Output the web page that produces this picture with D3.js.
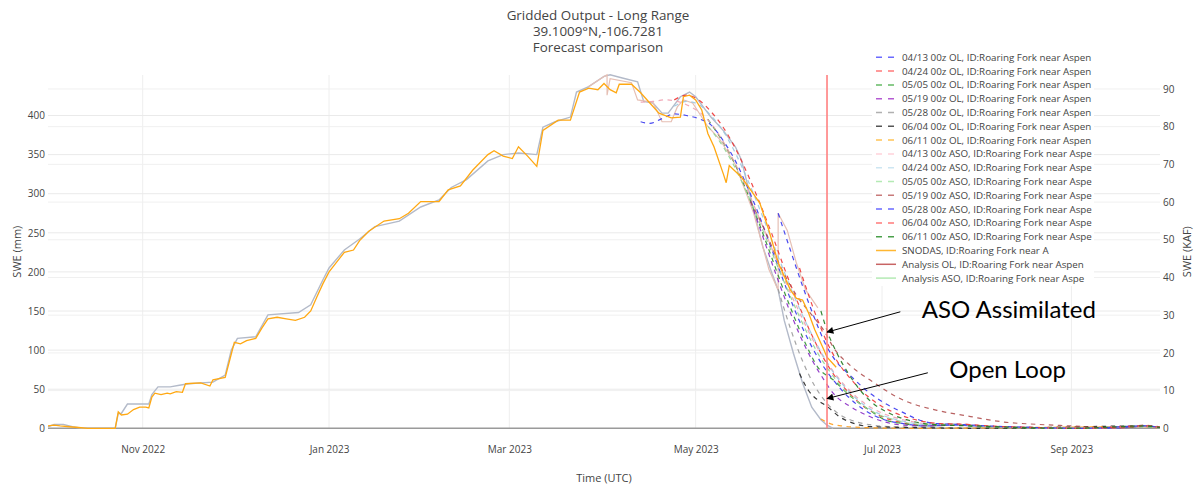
<!DOCTYPE html>
<html lang="en">
<head>
<meta charset="UTF-8" />
<title>Gridded Output - Long Range</title>
<style>
  body { margin: 0; background: #fff; font-family: "Open Sans", verdana, arial, sans-serif; }
  svg text { fill: #444; }
</style>
</head>
<body>
<svg id="chart" width="1195" height="487"></svg>
<script src="https://d3js.org/d3.v7.min.js"></script>
<script>
const titleLines = ["Gridded Output - Long Range", "39.1009°N,-106.7281", "Forecast comparison"];
const xLabel = "Time (UTC)";
const yLabelLeft = "SWE (mm)";
const yLabelRight = "SWE (KAF)";
const leftTicks = [0, 50, 100, 150, 200, 250, 300, 350, 400];
const rightTicks = [0, 10, 20, 30, 40, 50, 60, 70, 80, 90];
const markerDate = "2023-06-13";

// SNODAS (mm)
const snodas = [
  ["2022-10-01",3],["2022-10-03",4],["2022-10-05",3],["2022-10-08",2],["2022-10-11",1],["2022-10-14",0],
  ["2022-10-23",0],["2022-10-24",21],["2022-10-25",17],["2022-10-27",18],["2022-10-29",24],["2022-10-31",27],
  ["2022-11-02",27],["2022-11-03",26],["2022-11-04",40],["2022-11-05",45],["2022-11-07",43],["2022-11-09",45],
  ["2022-11-10",44],["2022-11-12",47],["2022-11-14",46],["2022-11-15",57],["2022-11-20",58],["2022-11-23",54],
  ["2022-11-24",62],["2022-11-28",65],["2022-11-30",95],["2022-12-01",110],["2022-12-03",108],["2022-12-05",112],
  ["2022-12-08",115],["2022-12-10",128],["2022-12-12",140],["2022-12-15",142],["2022-12-18",140],["2022-12-21",138],
  ["2022-12-24",142],["2022-12-26",150],["2022-12-28",168],["2022-12-30",185],["2023-01-01",200],["2023-01-04",215],
  ["2023-01-06",225],["2023-01-09",228],["2023-01-11",240],["2023-01-14",252],["2023-01-19",265],["2023-01-24",268],
  ["2023-01-27",275],["2023-01-31",290],["2023-02-06",290],["2023-02-09",305],["2023-02-13",310],["2023-02-17",330],
  ["2023-02-22",350],["2023-02-24",355],["2023-02-27",348],["2023-03-02",345],["2023-03-04",360],["2023-03-07",348],
  ["2023-03-10",335],["2023-03-12",381],["2023-03-17",394],["2023-03-21",394],["2023-03-24",430],["2023-03-27",435],
  ["2023-03-30",433],["2023-04-01",441],["2023-04-03",433],["2023-04-05",429],["2023-04-06",440],["2023-04-10",440],
  ["2023-04-13",429],["2023-04-16",416],["2023-04-19",403],["2023-04-23",397],["2023-04-26",398],["2023-04-27",424],
  ["2023-04-29",426],["2023-05-01",420],["2023-05-03",407],["2023-05-05",377],["2023-05-07",360],["2023-05-10",326],
  ["2023-05-11",314],["2023-05-12",336],["2023-05-16",321],["2023-05-19",305],["2023-05-22",288],["2023-05-25",253],
  ["2023-05-28",212],["2023-06-01",177],["2023-06-03",166],["2023-06-05",164],["2023-06-07",147],["2023-06-09",126],
  ["2023-06-12",100],["2023-06-13",91],["2023-06-16",78]
];

// Analysis OL (mm)
const analysisOL = [
  ["2022-10-01",2],["2022-10-03",5],["2022-10-06",5],["2022-10-09",2],["2022-10-12",0],["2022-10-23",0],
  ["2022-10-24",19],["2022-10-25",19],["2022-10-27",31],["2022-11-03",31],["2022-11-04",43],["2022-11-06",53],
  ["2022-11-10",53],["2022-11-13",55],["2022-11-16",57],["2022-11-24",59],["2022-11-28",68],["2022-11-30",100],
  ["2022-12-02",115],["2022-12-08",117],["2022-12-12",145],["2022-12-22",148],["2022-12-26",158],["2022-12-30",190],
  ["2023-01-01",205],["2023-01-06",228],["2023-01-11",242],["2023-01-16",258],["2023-01-24",265],["2023-01-31",283],
  ["2023-02-06",292],["2023-02-10",308],["2023-02-15",318],["2023-02-22",342],["2023-02-27",350],["2023-03-04",352],
  ["2023-03-10",350],["2023-03-12",385],["2023-03-16",392],["2023-03-21",398],["2023-03-23",430],["2023-03-27",437],
  ["2023-04-01",450],["2023-04-03",452],["2023-04-07",448],["2023-04-12",443],["2023-04-14",418],["2023-04-17",416],
  ["2023-04-20",403],["2023-04-22",403],["2023-04-26",424],["2023-04-29",430],["2023-05-01",424],["2023-05-06",398],
  ["2023-05-10",381],["2023-05-14",360],["2023-05-16",343],["2023-05-20",279],["2023-05-23",232],["2023-05-26",198],
  ["2023-05-28",177],["2023-05-30",138],["2023-06-02",96],["2023-06-05",58],["2023-06-08",27],["2023-06-11",11],
  ["2023-06-13",4],["2023-06-15",0]
];

// Analysis ASO (mm), same as OL until the ASO updates
const analysisASO = [
  ["2023-03-27",437],["2023-04-01",450],["2023-04-02",452],["2023-04-02",426],["2023-04-03",447],["2023-04-10",442],
  ["2023-04-12",420],["2023-04-17",417],["2023-04-20",392],["2023-04-23",392],["2023-04-25",411],["2023-04-27",420],
  ["2023-04-30",416],["2023-05-05",386],["2023-05-09",369],["2023-05-14",337],["2023-05-18",296],["2023-05-20",275],
  ["2023-05-23",232],["2023-05-25",203],["2023-05-28",177],["2023-05-28",275],["2023-05-31",253],["2023-06-03",211],
  ["2023-06-06",177],["2023-06-10",154]
];

// forecasts (mm)
const fc0413OL = [["2023-04-13",392],["2023-04-16",390],["2023-04-20",396],["2023-04-24",402],["2023-04-28",400],["2023-05-02",396],["2023-05-06",388],["2023-05-10",368],["2023-05-14",342],["2023-05-18",308],["2023-05-22",270],["2023-05-26",228],["2023-05-30",186],["2023-06-03",146],["2023-06-07",112],["2023-06-11",84],["2023-06-15",62],["2023-06-20",40],["2023-06-25",24],["2023-07-01",12],["2023-07-08",6],["2023-07-15",3],["2023-07-25",4],["2023-08-05",2],["2023-08-20",1],["2023-09-05",0],["2023-09-20",1],["2023-09-25",3],["2023-09-30",1]];
const fc0424OL = [["2023-04-24",420],["2023-04-28",426],["2023-05-02",420],["2023-05-06",405],["2023-05-10",385],["2023-05-14",358],["2023-05-18",325],["2023-05-22",288],["2023-05-26",248],["2023-05-30",205],["2023-06-03",165],["2023-06-07",128],["2023-06-11",96],["2023-06-15",70],["2023-06-20",46],["2023-06-25",28],["2023-07-01",15],["2023-07-08",7],["2023-07-15",4],["2023-07-25",5],["2023-08-05",2],["2023-08-20",1],["2023-09-05",0],["2023-09-20",1],["2023-09-25",3],["2023-09-30",1]];
const fc0505OL = [["2023-05-05",395],["2023-05-09",372],["2023-05-13",345],["2023-05-17",310],["2023-05-21",270],["2023-05-25",228],["2023-05-29",185],["2023-06-02",145],["2023-06-06",108],["2023-06-10",78],["2023-06-15",62],["2023-06-21",40],["2023-06-27",23],["2023-07-02",11],["2023-07-08",6],["2023-07-15",3],["2023-07-25",4],["2023-08-05",1],["2023-09-01",0],["2023-09-25",2],["2023-09-30",1]];
const fc0519OL = [["2023-05-19",290],["2023-05-23",245],["2023-05-27",200],["2023-05-31",158],["2023-06-04",120],["2023-06-08",88],["2023-06-12",62],["2023-06-15",45],["2023-06-21",27],["2023-06-27",15],["2023-07-02",8],["2023-07-08",4],["2023-07-15",3],["2023-07-25",5],["2023-08-05",2],["2023-08-20",1],["2023-09-05",0],["2023-09-25",3],["2023-09-30",1]];
const fc0528OL = [["2023-05-28",178],["2023-06-01",128],["2023-06-05",86],["2023-06-09",54],["2023-06-13",32],["2023-06-17",18],["2023-06-22",9],["2023-06-28",4],["2023-07-05",2],["2023-07-20",1],["2023-08-05",0],["2023-09-25",2],["2023-09-30",0]];
const fc0604OL = [["2023-06-04",70],["2023-06-07",48],["2023-06-10",36],["2023-06-13",28],["2023-06-17",15],["2023-06-22",6],["2023-06-28",2],["2023-07-10",1],["2023-08-01",0],["2023-09-25",3],["2023-09-30",1]];
const fc0611OL = [["2023-06-11",12],["2023-06-14",6],["2023-06-18",3],["2023-06-25",1],["2023-07-10",0],["2023-09-25",2],["2023-09-30",0]];
const fc0413ASO = [["2023-04-13",417],["2023-04-17",418],["2023-04-21",420],["2023-04-25",418],["2023-04-29",412],["2023-05-03",402],["2023-05-07",385],["2023-05-11",360],["2023-05-15",330],["2023-05-19",295],["2023-05-23",258],["2023-05-27",220],["2023-05-31",182],["2023-06-04",148],["2023-06-08",116],["2023-06-12",90],["2023-06-16",68],["2023-06-21",46],["2023-06-26",30],["2023-07-02",18],["2023-07-09",10],["2023-07-16",6],["2023-07-25",6],["2023-08-05",3],["2023-08-20",1],["2023-09-05",0],["2023-09-25",3],["2023-09-30",1]];
const fc0424ASO = [["2023-04-24",412],["2023-04-28",418],["2023-05-02",414],["2023-05-06",400],["2023-05-10",380],["2023-05-14",352],["2023-05-18",318],["2023-05-22",280],["2023-05-26",240],["2023-05-30",200],["2023-06-03",162],["2023-06-07",128],["2023-06-11",98],["2023-06-15",72],["2023-06-20",48],["2023-06-25",30],["2023-07-01",17],["2023-07-08",9],["2023-07-15",5],["2023-07-25",5],["2023-08-05",2],["2023-08-20",1],["2023-09-05",0],["2023-09-25",3],["2023-09-30",1]];
const fc0505ASO = [["2023-05-05",386],["2023-05-09",366],["2023-05-13",340],["2023-05-17",308],["2023-05-21",272],["2023-05-25",234],["2023-05-29",196],["2023-06-02",160],["2023-06-06",126],["2023-06-10",96],["2023-06-14",72],["2023-06-18",52],["2023-06-23",34],["2023-06-28",21],["2023-07-05",11],["2023-07-15",5],["2023-07-25",5],["2023-08-05",2],["2023-08-20",1],["2023-09-05",0],["2023-09-25",3],["2023-09-30",1]];
const fc0519ASO = [["2023-05-19",290],["2023-05-24",250],["2023-05-29",205],["2023-06-03",170],["2023-06-08",145],["2023-06-12",125],["2023-06-15",104],["2023-06-21",79],["2023-06-27",62],["2023-07-08",36],["2023-07-19",23],["2023-07-30",15],["2023-08-10",8],["2023-08-21",5],["2023-09-01",3],["2023-09-12",1],["2023-09-20",2],["2023-09-25",4],["2023-09-30",2]];
const fc0528ASO = [["2023-05-28",275],["2023-06-01",228],["2023-06-05",182],["2023-06-09",140],["2023-06-13",104],["2023-06-15",91],["2023-06-21",66],["2023-06-27",45],["2023-07-02",32],["2023-07-08",20],["2023-07-13",11],["2023-07-19",6],["2023-07-26",5],["2023-08-05",3],["2023-08-20",1],["2023-09-05",0],["2023-09-25",3],["2023-09-30",1]];
const fc0604ASO = [["2023-06-04",205],["2023-06-07",170],["2023-06-10",138],["2023-06-13",110],["2023-06-16",88],["2023-06-21",62],["2023-06-26",42],["2023-07-01",28],["2023-07-07",17],["2023-07-13",10],["2023-07-20",6],["2023-07-28",5],["2023-08-05",3],["2023-08-20",1],["2023-09-05",0],["2023-09-25",3],["2023-09-30",1]];
const fc0611ASO = [["2023-06-11",150],["2023-06-13",125],["2023-06-16",98],["2023-06-20",70],["2023-06-24",48],["2023-06-28",32],["2023-07-03",20],["2023-07-09",11],["2023-07-15",6],["2023-07-22",4],["2023-08-01",3],["2023-08-15",1],["2023-09-01",0],["2023-09-25",3],["2023-09-30",1]];

const legendNames = [
  "04/13 00z OL, ID:Roaring Fork near Aspen", "04/24 00z OL, ID:Roaring Fork near Aspen",
  "05/05 00z OL, ID:Roaring Fork near Aspen", "05/19 00z OL, ID:Roaring Fork near Aspen",
  "05/28 00z OL, ID:Roaring Fork near Aspen", "06/04 00z OL, ID:Roaring Fork near Aspen",
  "06/11 00z OL, ID:Roaring Fork near Aspen", "04/13 00z ASO, ID:Roaring Fork near Aspe",
  "04/24 00z ASO, ID:Roaring Fork near Aspe", "05/05 00z ASO, ID:Roaring Fork near Aspe",
  "05/19 00z ASO, ID:Roaring Fork near Aspe", "05/28 00z ASO, ID:Roaring Fork near Aspe",
  "06/04 00z ASO, ID:Roaring Fork near Aspe", "06/11 00z ASO, ID:Roaring Fork near Aspe",
  "SNODAS, ID:Roaring Fork near A", "Analysis OL, ID:Roaring Fork near Aspen",
  "Analysis ASO, ID:Roaring Fork near Aspe"
];
const legendColors = ["#6a6aff","#ff7a7a","#66bb66","#b45ad2","#b0b0b0","#555555","#ffc456",
  "#ffd2da","#cde6f2","#b4eab4","#c87a7a","#6a6aff","#ff7a7a","#4aa04a","#ffb732","#c86464","#b4eab4"];
const legendDashed = [true,true,true,true,true,true,true,true,true,true,true,true,true,true,false,false,false];

const forecasts = [fc0413OL, fc0424OL, fc0505OL, fc0519OL, fc0528OL, fc0604OL, fc0611OL,
  fc0413ASO, fc0424ASO, fc0505ASO, fc0519ASO, fc0528ASO, fc0604ASO, fc0611ASO];
const plotColors = ["#3535ee","#ee3535","#2e8f2e","#8a2bc4","#9a9a9a","#222222","#ff9d1a",
  "#f0a0b0","#9cc8e0","#8fd68f","#b05050","#3535ee","#ee3535","#227a22"];

const annotations = [
  { text: "ASO Assimilated", tip: ["2023-06-13", 123], tail: ["2023-07-07", 149], label: ["2023-07-14", 149] },
  { text: "Open Loop", tip: ["2023-06-13", 38], tail: ["2023-07-16", 71], label: ["2023-07-23", 72] }
];

const W = 1195, H = 487;
const margin = { left: 48, right: 35, top: 75, bottom: 58.7 };
const parse = d3.utcParse("%Y-%m-%d");
const svg = d3.select("#chart");

const x = d3.scaleUtc()
  .domain([parse("2022-10-01"), parse("2023-09-30")])
  .range([margin.left, W - margin.right]);
const y = d3.scaleLinear().domain([0, 451.8]).range([H - margin.bottom, margin.top]);
const y2 = d3.scaleLinear().domain([0, 93.7]).range([H - margin.bottom, margin.top]);

// grid
const grid = svg.append("g");
grid.selectAll("line.gx").data(d3.utcMonth.every(2).range(parse("2022-10-01"), parse("2023-09-30")))
  .join("line").attr("x1", d => x(d)).attr("x2", d => x(d))
  .attr("y1", margin.top).attr("y2", H - margin.bottom)
  .attr("stroke", "#eeeeee").attr("stroke-width", 1);
grid.selectAll("line.gy").data(leftTicks.slice(1)).join("line")
  .attr("x1", margin.left).attr("x2", W - margin.right)
  .attr("y1", d => y(d)).attr("y2", d => y(d))
  .attr("stroke", "#eaeaea").attr("stroke-width", 1);
grid.selectAll("line.gy2").data(rightTicks.slice(1)).join("line")
  .attr("x1", margin.left).attr("x2", W - margin.right)
  .attr("y1", d => y2(d)).attr("y2", d => y2(d))
  .attr("stroke", "#f0f0f0").attr("stroke-width", 1);

// axes text
const xAxis = d3.axisBottom(x).ticks(d3.utcMonth.every(2)).tickFormat(d3.utcFormat("%b %Y")).tickSize(0).tickPadding(18);
svg.append("g").attr("transform", `translate(0,${H - margin.bottom})`).call(xAxis)
  .call(g => g.select(".domain").remove())
  .selectAll("text").attr("font-size", 10).attr("font-family", "Open Sans").attr("fill", "#444");

const yAxis = d3.axisLeft(y).tickValues(leftTicks).tickSize(0).tickPadding(3);
svg.append("g").attr("transform", `translate(${margin.left},0)`).call(yAxis)
  .call(g => g.select(".domain").remove())
  .selectAll("text").attr("font-size", 10).attr("font-family", "Open Sans").attr("fill", "#444");

const yAxis2 = d3.axisRight(y2).tickValues(rightTicks).tickSize(0).tickPadding(3);
svg.append("g").attr("transform", `translate(${W - margin.right},0)`).call(yAxis2)
  .call(g => g.select(".domain").remove())
  .selectAll("text").attr("font-size", 10).attr("font-family", "Open Sans").attr("fill", "#444");

// zero line
svg.append("line").attr("x1", margin.left).attr("x2", W - margin.right)
  .attr("y1", y(0)).attr("y2", y(0)).attr("stroke", "#9a9a9a").attr("stroke-width", 1.6);

const line = d3.line().x(d => x(parse(d[0]))).y(d => y(d[1])).curve(d3.curveLinear);
const smooth = d3.line().x(d => x(parse(d[0]))).y(d => y(d[1])).curve(d3.curveMonotoneX);

const plot = svg.append("g");
// analysis lines
plot.append("path").datum(analysisOL).attr("d", line).attr("fill", "none")
  .attr("stroke", "#b3bac9").attr("stroke-width", 1.4);
plot.append("path").datum(analysisASO).attr("d", line).attr("fill", "none")
  .attr("stroke", "#e6bfb4").attr("stroke-width", 1.2);

// forecasts
forecasts.forEach((f, i) => {
  plot.append("path").datum(f).attr("d", smooth).attr("fill", "none")
    .attr("stroke", plotColors[i]).attr("stroke-width", 1.2)
    .attr("stroke-dasharray", "4.5,4.5").attr("opacity", 0.9);
});

// SNODAS
plot.append("path").datum(snodas).attr("d", line).attr("fill", "none")
  .attr("stroke", "#ffa812").attr("stroke-width", 1.3);

// marker line
svg.append("line").attr("x1", x(parse(markerDate))).attr("x2", x(parse(markerDate)))
  .attr("y1", margin.top).attr("y2", y(0)).attr("stroke", "#ff8080").attr("stroke-width", 1.6);

// titles
const title = svg.append("text").attr("x", 598).attr("y", 20).attr("text-anchor", "middle")
  .attr("font-size", 13.4).attr("fill", "#444");
titleLines.forEach((t, i) => title.append("tspan").attr("x", 598).attr("dy", i ? 16 : 0).text(t));

svg.append("text").attr("x", (margin.left + W - margin.right) / 2).attr("y", 482)
  .attr("text-anchor", "middle").attr("font-size", 11).text(xLabel);
svg.append("text").attr("transform", `translate(21,${(margin.top + H - margin.bottom) / 2}) rotate(-90)`)
  .attr("text-anchor", "middle").attr("font-size", 11).text(yLabelLeft);
svg.append("text").attr("transform", `translate(1191,${(margin.top + H - margin.bottom) / 2}) rotate(-90)`)
  .attr("text-anchor", "middle").attr("font-size", 11).text(yLabelRight);

// legend
const lg = svg.append("g").attr("transform", "translate(872,50)");
lg.append("rect").attr("width", 222).attr("height", 236).attr("fill", "#fff");
legendNames.forEach((n, i) => {
  const row = lg.append("g").attr("transform", `translate(0,${7.3 + i * 13.8})`);
  row.append("line").attr("x1", 4).attr("x2", 24).attr("y1", 0).attr("y2", 0)
    .attr("stroke", legendColors[i]).attr("stroke-width", 1.5)
    .attr("stroke-dasharray", legendDashed[i] ? "6,6" : null);
  row.append("text").attr("x", 30).attr("y", 3.5).attr("font-size", 9.8).text(n);
});

// annotations
svg.append("defs").append("marker").attr("id", "arrow").attr("viewBox", "0 0 10 10")
  .attr("refX", 9).attr("refY", 5).attr("markerWidth", 8).attr("markerHeight", 7)
  .attr("orient", "auto").append("path").attr("d", "M0,0 L10,5 L0,10 z").attr("fill", "#000");
annotations.forEach(a => {
  svg.append("line").attr("x1", x(parse(a.tail[0]))).attr("y1", y(a.tail[1]))
    .attr("x2", x(parse(a.tip[0]))).attr("y2", y(a.tip[1]))
    .attr("stroke", "#000").attr("stroke-width", 1).attr("marker-end", "url(#arrow)");
  svg.append("text").attr("x", x(parse(a.label[0]))).attr("y", y(a.label[1]))
    .attr("font-family", "Lato, 'Open Sans', sans-serif").attr("font-size", 24)
    .style("fill", "#000").attr("dominant-baseline", "middle").text(a.text);
});
</script>
</body>
</html>
